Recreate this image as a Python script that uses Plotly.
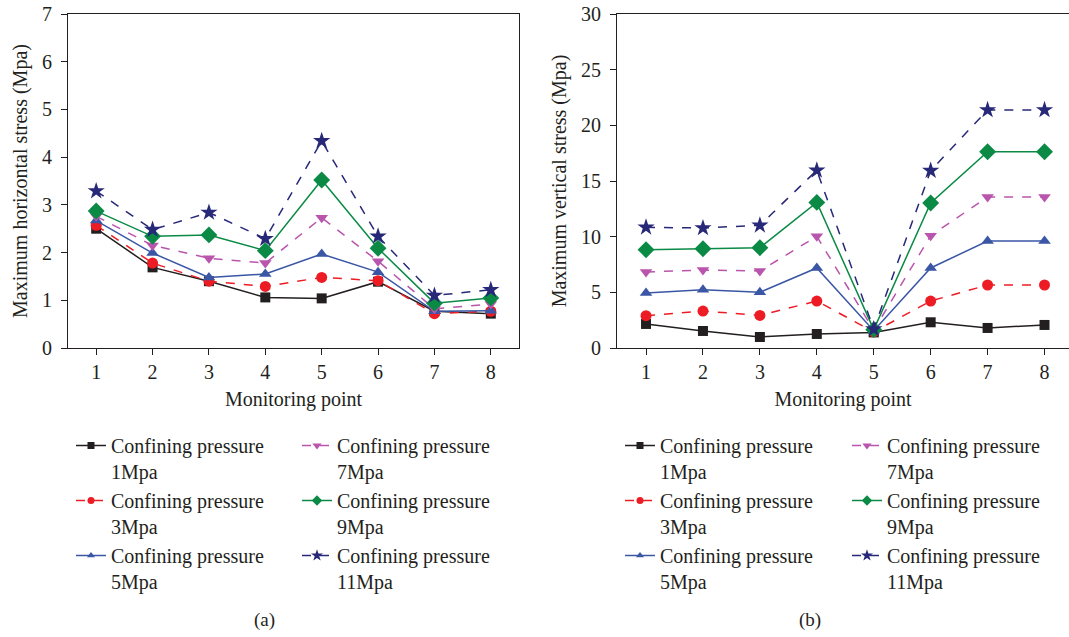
import plotly.graph_objects as go

points = [1, 2, 3, 4, 5, 6, 7, 8]
series_names = ["Confining pressure<br>1Mpa", "Confining pressure<br>3Mpa", "Confining pressure<br>5Mpa",
                "Confining pressure<br>7Mpa", "Confining pressure<br>9Mpa", "Confining pressure<br>11Mpa"]

# (a) Maximum horizontal stress (Mpa)
h_1 = [2.50, 1.69, 1.40, 1.06, 1.04, 1.39, 0.77, 0.72]
h_3 = [2.57, 1.78, 1.40, 1.29, 1.48, 1.41, 0.72, 0.77]
h_5 = [2.67, 1.99, 1.48, 1.55, 1.97, 1.59, 0.77, 0.78]
h_7 = [2.76, 2.15, 1.88, 1.78, 2.73, 1.82, 0.82, 0.92]
h_9 = [2.87, 2.34, 2.37, 2.04, 3.52, 2.09, 0.94, 1.05]
h_11 = [3.29, 2.48, 2.84, 2.29, 4.34, 2.34, 1.10, 1.22]

# (b) Maximum vertical stress (Mpa)
v_1 = [2.16, 1.53, 0.99, 1.26, 1.40, 2.31, 1.80, 2.07]
v_3 = [2.90, 3.32, 2.93, 4.22, 1.45, 4.22, 5.66, 5.66]
v_5 = [4.94, 5.24, 5.00, 7.19, 1.55, 7.19, 9.61, 9.61]
v_7 = [6.83, 7.00, 6.92, 10.03, 1.60, 10.09, 13.56, 13.56]
v_9 = [8.83, 8.92, 9.01, 13.08, 1.65, 13.02, 17.63, 17.63]
v_11 = [10.84, 10.78, 11.02, 15.96, 1.70, 15.93, 21.38, 21.38]

colors = ["#231f20", "#ed1c24", "#3a56a5", "#b955ad", "#0a8a45", "#272878"]
dashes = ["solid", "dash", "solid", "dash", "solid", "dash"]
symbols = ["square", "circle", "triangle-up", "triangle-down", "diamond", "star"]
msizes = [10, 11, 11, 11, 13, 13]
legend_msizes = [7, 7, 7, 8, 8, 9]

FONT = "Liberation Serif"
W, H = 1069, 637
fig = go.Figure()

h_series = [h_1, h_3, h_5, h_7, h_9, h_11]
v_series = [v_1, v_3, v_5, v_7, v_9, v_11]

panels = [(h_series, "x", "y", ("legend", "legend2")), (v_series, "x2", "y2", ("legend3", "legend4"))]
for data, xa, ya, lgs in panels:
    for i in range(6):
        fig.add_trace(go.Scatter(
            x=points, y=data[i], name=series_names[i], mode="lines+markers",
            xaxis=xa, yaxis=ya, showlegend=False,
            line=dict(color=colors[i], width=1.5, dash=dashes[i]),
            marker=dict(symbol=symbols[i], size=msizes[i], color=colors[i]),
        ))
    # legend samples (smaller symbols, as in the reference legend)
    for i in range(6):
        fig.add_trace(go.Scatter(
            x=[None], y=[None], name=series_names[i], mode="lines+markers",
            xaxis=xa, yaxis=ya, legend=lgs[0] if i < 3 else lgs[1], showlegend=True,
            line=dict(color=colors[i], width=1.5, dash=dashes[i]),
            marker=dict(symbol=symbols[i], size=legend_msizes[i], color=colors[i]),
        ))

axis_common = dict(showline=True, linecolor="#231f20", linewidth=1, ticks="outside", ticklen=6,
                   tickcolor="#231f20", showgrid=False, zeroline=False, automargin=False,
                   tickfont=dict(family=FONT, size=20, color="#231f20"))

ydom = [1 - 348 / H, 1 - 14 / H]


def legend_at(px):
    return dict(orientation="v", x=px / W, xanchor="left", y=1 - 601 / H, yanchor="bottom",
                valign="top", traceorder="normal", tracegroupgap=0,
                font=dict(family=FONT, size=20, color="#231f20"), bgcolor="rgba(0,0,0,0)")


fig.update_layout(
    width=W, height=H, margin=dict(l=0, r=0, t=0, b=0),
    paper_bgcolor="white", plot_bgcolor="white",
    font=dict(family=FONT, color="#231f20"),
    xaxis=dict(domain=[68 / W, 519 / W], range=[0.5, 8.5], tickvals=points, mirror=True, anchor="y",
               title=dict(text="Monitoring point", font=dict(family=FONT, size=20), standoff=9), **axis_common),
    yaxis=dict(domain=ydom, range=[0, 7], dtick=1, mirror=True, anchor="x", ticklabelstandoff=5,
               title=dict(text="Maximum horizontal stress (Mpa)", font=dict(family=FONT, size=20), standoff=9),
               **axis_common),
    xaxis2=dict(domain=[617 / W, 1.0], range=[0.49, 8.43], tickvals=points, mirror=True, anchor="y2",
                title=dict(text="Monitoring point", font=dict(family=FONT, size=20), standoff=9), **axis_common),
    yaxis2=dict(domain=ydom, range=[0, 30], dtick=5, mirror=False, anchor="x2", ticklabelstandoff=5,
                title=dict(text="Maximum vertical stress (Mpa)", font=dict(family=FONT, size=20), standoff=9),
                **axis_common),
    legend=legend_at(71),
    legend2=legend_at(297),
    legend3=legend_at(620),
    legend4=legend_at(847),
    annotations=[
        dict(text="(a)", x=264 / W, y=1 - 620 / H, xref="paper", yref="paper", showarrow=False,
             xanchor="center", yanchor="middle", font=dict(family=FONT, size=19, color="#231f20")),
        dict(text="(b)", x=810 / W, y=1 - 620 / H, xref="paper", yref="paper", showarrow=False,
             xanchor="center", yanchor="middle", font=dict(family=FONT, size=19, color="#231f20")),
    ],
)

fig.write_html("out.html", config={"displayModeBar": False},
               post_script="document.body.style.margin='0';")
